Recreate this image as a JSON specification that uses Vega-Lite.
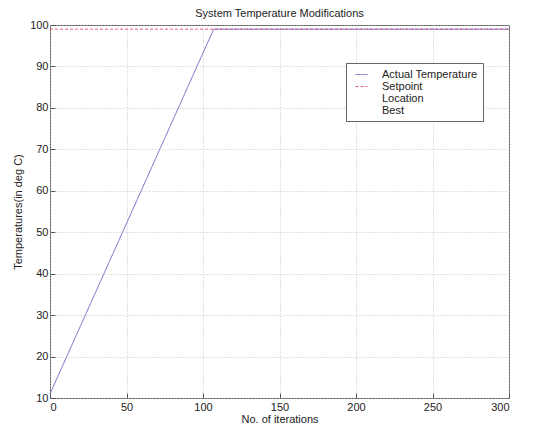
{
  "$schema": "https://vega.github.io/schema/vega-lite/v6.json",
  "autosize": "none",
  "width": 459,
  "height": 373,
  "padding": {"left": 50, "top": 25, "right": 41, "bottom": 32},
  "background": "white",
  "title": {"text": "System Temperature Modifications", "fontSize": 11, "fontWeight": "normal", "color": "#222", "offset": 0, "font": "Liberation Sans"},
  "config": {
    "font": "Liberation Sans",
    "view": {"stroke": "#555", "strokeWidth": 1},
    "axis": {
      "domain": false,
      "tickSize": -5,
      "tickColor": "#555",
      "labelFontSize": 11,
      "labelColor": "#222",
      "labelPadding": 8,
      "titleFontSize": 11,
      "titleFontWeight": "normal",
      "titleColor": "#222",
      "gridColor": "#c4c4c4",
      "gridDash": [1, 2],
      "gridWidth": 1
    }
  },
  "data": {
    "values": [
      {"series": "Actual Temperature", "iteration": 0, "temp": 11},
      {"series": "Actual Temperature", "iteration": 107, "temp": 99},
      {"series": "Actual Temperature", "iteration": 300, "temp": 99},
      {"series": "Setpoint", "iteration": 0, "temp": 99},
      {"series": "Setpoint", "iteration": 300, "temp": 99}
    ]
  },
  "mark": {"type": "line", "strokeWidth": 1},
  "encoding": {
    "x": {
      "field": "iteration", "type": "quantitative",
      "scale": {"domain": [0, 300], "nice": false},
      "axis": {"values": [0, 50, 100, 150, 200, 250, 300], "title": "No. of iterations", "titlePadding": 1}
    },
    "y": {
      "field": "temp", "type": "quantitative",
      "scale": {"domain": [10, 100], "nice": false, "zero": false},
      "axis": {"values": [10, 20, 30, 40, 50, 60, 70, 80, 90, 100], "title": "Temperatures(in deg C)", "titlePadding": 6, "labelPadding": 7}
    },
    "color": {
      "field": "series", "type": "nominal",
      "scale": {"domain": ["Actual Temperature", "Setpoint", "Location", "Best"], "range": ["#6b6bc6", "#e0607a", "transparent", "transparent"]},
      "legend": {"title": null, "orient": "none", "legendX": 296, "legendY": 38, "symbolType": "stroke", "symbolSize": 144, "symbolStrokeWidth": 1, "fillColor": "white", "strokeColor": "#666", "padding": 5, "labelFontSize": 11, "labelColor": "#222", "rowPadding": -0.5, "labelOffset": 14, "symbolOffset": 4}
    },
    "strokeDash": {
      "field": "series", "type": "nominal",
      "scale": {"domain": ["Actual Temperature", "Setpoint", "Location", "Best"], "range": [[1, 0], [3, 2], [1, 0], [1, 0]]},
      "legend": {"title": null, "orient": "none", "legendX": 296, "legendY": 38, "symbolType": "stroke", "symbolSize": 144, "symbolStrokeWidth": 1, "fillColor": "white", "strokeColor": "#666", "padding": 5, "labelFontSize": 11, "labelColor": "#222", "rowPadding": -0.5, "labelOffset": 14, "symbolOffset": 4}
    }
  }
}
